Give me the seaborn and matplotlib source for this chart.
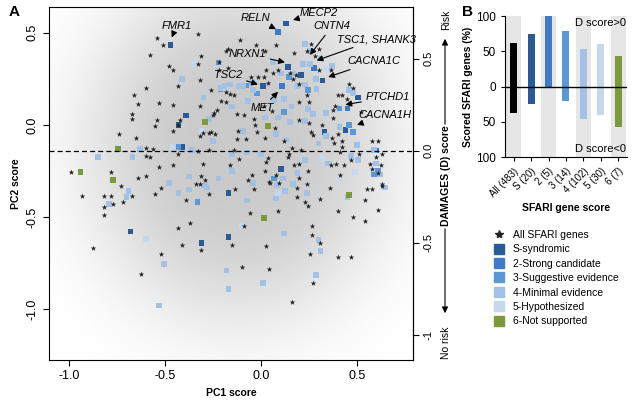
import numpy as np
import pandas as pd
import matplotlib
matplotlib.use("Agg")
import matplotlib.pyplot as plt
from matplotlib.lines import Line2D
from matplotlib.patches import FancyArrowPatch
import seaborn as sns

plt.rcParams['font.family'] = ['Liberation Sans', 'DejaVu Sans']

# ---------------- Panel A data: (PC1, PC2) ----------------
star_points = [
    (-0.54,0.47),(-0.51,0.435),(-0.33,0.495),(-0.58,0.38),(-0.31,0.375),(-0.48,0.32),(-0.33,0.33),(-0.32,0.245),
    (-0.60,0.20),(-0.66,0.16),(-0.53,0.12),(-0.64,0.114),(-0.46,0.11),(-0.32,0.10),(-0.67,0.06),(-0.67,0.033),
    (-0.54,0.027),(-0.55,-0.005),(-0.245,0.065),(-0.74,-0.05),(-0.65,-0.07),(-0.46,-0.033),(-0.32,-0.06),
    (-0.27,-0.043),(-0.24,-0.05),(-0.60,-0.125),(-0.56,-0.13),(-0.60,-0.17),(-0.58,-0.174),(-0.33,-0.14),
    (-0.53,-0.23),(-0.46,-0.22),(-0.30,-0.21),(-0.99,-0.255),(-0.78,-0.255),(-0.73,-0.33),(-0.64,-0.29),
    (-0.60,-0.28),(-0.32,-0.32),(-0.29,-0.30),(-0.93,-0.385),(-0.82,-0.385),(-0.78,-0.385),(-0.67,-0.385),
    (-0.55,-0.375),(-0.52,-0.34),(-0.82,-0.445),(-0.77,-0.43),(-0.72,-0.42),(-0.82,-0.49),(-0.875,-0.67),
    (-0.52,-0.70),(-0.625,-0.81),(-0.43,-0.56),(-0.37,-0.53),(-0.41,-0.65),(-0.31,-0.68),(-0.27,-0.375),
    (-0.15,-0.65),(-0.135,-0.35),(-0.39,-0.41),(-0.43,-0.16),(-0.31,-0.28),(-0.34,-0.32),(-0.16,-0.22),
    (-0.115,-0.185),(-0.047,-0.27),(-0.068,-0.30),(-0.036,-0.35),(0.026,-0.20),(0.036,-0.18),(0.021,-0.25),
    (0.042,-0.31),(0.078,-0.27),(0.094,-0.315),(0.14,-0.174),(0.146,-0.16),(0.17,-0.22),(-0.057,-0.48),
    (0.089,-0.47),(-0.09,-0.55),(0.026,-0.66),(-0.10,-0.77),(0.042,-0.78),(0.16,-0.96),(0.265,-0.55),
    (0.265,-0.60),(0.31,-0.64),(0.255,-0.70),(0.27,-0.86),(0.40,-0.72),(0.47,-0.72),(0.40,-0.47),(0.48,-0.50),
    (0.54,-0.52),(0.61,-0.46),(0.54,-0.41),(0.55,-0.35),(0.58,-0.35),(0.63,-0.33),(0.19,-0.39),(0.23,-0.42),
    (0.245,-0.44),(0.31,-0.40),(0.36,-0.34),(0.047,-0.315),(0.20,-0.21),(0.20,-0.29),(0.245,-0.25),(0.24,-0.32),
    (0.19,-0.34),(0.365,-0.22),(0.39,-0.21),(0.41,-0.27),(0.43,-0.22),(0.41,-0.147),(0.47,-0.19),(0.51,-0.16),
    (0.57,-0.21),(0.58,-0.24),(0.625,-0.22),(0.63,-0.16),(0.60,-0.174),(0.61,-0.26),(0.63,-0.32),
    (-0.11,0.46),(-0.17,0.41),(-0.026,0.435),(0.021,0.40),(0.078,0.435),(-0.22,0.34),(-0.17,0.31),(-0.22,0.30),
    (-0.46,0.30),(-0.43,0.21),(-0.26,0.19),(-0.18,0.18),(-0.16,0.17),(-0.14,0.16),(-0.21,0.13),(-0.18,0.125),
    (-0.23,0.08),(-0.125,0.06),(-0.25,0.054),(-0.26,-0.04),(-0.30,-0.043),(-0.42,0.027),(-0.43,0.0),
    (-0.12,-0.033),(-0.031,0.0),(-0.036,0.033),(-0.09,0.054),(-0.021,-0.04),(0.073,-0.016),(-0.125,-0.076),
    (-0.078,-0.076),(0.021,-0.07),(0.12,-0.09),(0.016,0.10),(0.057,0.076),(-0.016,0.26),(0.016,0.26),
    (0.036,0.23),(-0.052,0.26),(0.026,0.30),(0.0625,0.28),(0.089,0.30),(0.15,0.28),(0.26,0.44),(0.24,0.40),
    (0.30,0.41),(0.28,0.375),(0.17,0.39),(0.30,0.30),(0.365,0.30),(0.46,0.22),(0.48,0.20),(0.40,0.16),
    (0.42,0.16),(0.45,0.14),(0.20,0.22),(0.18,0.27),(0.167,0.25),(0.24,0.16),(0.25,0.125),(0.20,0.125),
    (0.385,0.10),(0.375,0.08),(0.375,0.04),(0.20,0.027),(0.25,0.01),(0.32,0.0),(0.26,-0.04),(0.27,-0.054),
    (0.40,-0.05),(0.37,-0.07),(0.38,-0.10),(0.42,-0.09),(0.42,-0.12),(0.58,-0.09),(0.61,-0.09),(0.52,0.07),
    (-0.18,0.40),(0.16,-0.125),(0.21,-0.136),(-0.14,-0.136),(-0.27,-0.136),
]

sq_S = [(-0.47,0.435),(-0.39,0.05),(-0.43,0.0),(-0.41,-0.12),(-0.17,-0.37),(-0.68,-0.58),(-0.31,-0.64),
        (-0.17,-0.61),(0.104,-0.24),(0.13,0.55),(0.01,0.21),(0.14,0.315),(0.32,0.24),(0.21,0.27),(0.505,0.15),
        (0.44,-0.027),(0.33,-0.04)]
sq_2 = [(0.60,-0.14),(0.089,0.505),(0.11,0.21),(0.276,0.31),(0.45,0.09)]
sq_3 = [(-0.22,0.34),(-0.21,0.196),(-0.43,-0.12),(-0.33,-0.42),(0.068,-0.29),(0.61,-0.25),(0.59,-0.27),
        (0.146,0.26),(-0.075,0.215),(-0.021,0.17),(0.12,0.07),(0.245,0.19),(0.41,0.09),(0.46,0.0),(0.48,-0.04)]
sq_4 = [(-0.41,0.25),(-0.30,0.15),(-0.27,0.033),(-0.63,-0.13),(-0.36,-0.136),(-0.85,-0.174),(-0.67,-0.174),
        (-0.48,-0.315),(-0.375,-0.28),(-0.22,-0.29),(-0.69,-0.36),(-0.70,-0.39),(-0.79,-0.43),(-0.505,-0.755),
        (-0.53,-0.98),(-0.43,-0.37),(-0.375,-0.35),(-0.28,-0.34),(-0.18,-0.79),(-0.17,-0.89),(-0.29,-0.33),
        (-0.15,-0.25),(-0.073,-0.41),(-0.042,-0.315),(0.083,-0.33),(0.115,-0.29),(0.125,-0.36),(0.078,-0.40),
        (0.167,-0.32),(0.12,-0.59),(0.01,-0.86),(-0.15,-0.16),(-0.073,-0.15),(0.0,-0.16),(0.30,-0.625),
        (0.31,-0.685),(0.286,-0.815),(0.45,-0.39),(0.645,-0.34),(0.23,-0.19),(0.19,-0.26),(0.24,-0.37),
        (0.35,-0.21),(0.47,-0.17),(0.505,-0.19),(0.60,-0.21),(0.62,-0.27),(0.0625,0.34),(0.104,0.28),
        (-0.094,0.21),(-0.115,0.21),(-0.042,0.19),(-0.047,0.23),(-0.16,0.22),(-0.19,0.21),(-0.21,0.20),
        (0.089,0.04),(0.021,0.04),(0.068,0.136),(0.12,0.14),(-0.068,0.13),(-0.15,0.10),(-0.094,-0.033),
        (-0.25,-0.087),(0.078,-0.05),(0.13,-0.08),(0.15,0.016),(0.255,0.33),(0.22,0.33),(0.31,0.36),
        (0.37,0.32),(0.286,0.25),(0.23,0.44),(0.255,0.40),(0.167,0.28),(0.23,0.22),(0.19,0.21),(0.29,0.196),
        (0.46,0.19),(0.48,0.17),(0.34,0.065),(0.245,0.087),(0.27,0.06),(0.23,0.02),(0.16,0.10),(0.41,-0.01),
        (0.34,-0.06),(0.30,-0.10),(0.50,-0.11),(0.59,-0.136)]
sq_5 = [(-0.35,0.33),(-0.31,-0.033),(-0.60,-0.62),(0.089,-0.37),(-0.10,-0.55),(0.32,-0.18),(0.49,-0.255),
        (0.41,-0.30),(-0.46,-0.12),(0.34,0.30)]
sq_6 = [(-0.29,0.016),(-0.745,-0.13),(-0.94,-0.255),(-0.77,-0.30),(0.016,-0.505),(0.46,-0.38),(0.036,-0.005)]

gene_labels = ['FMR1','RELN','MECP2','CNTN4','TSC1, SHANK3','CACNA1C','NRXN1','TSC2','MET','PTCHD1','CACNA1H']
label_xy    = [(-0.44,0.535),(-0.03,0.58),(0.30,0.61),(0.37,0.535),(0.60,0.465),(0.59,0.345),
               (-0.07,0.385),(-0.17,0.27),(0.005,0.09),(0.66,0.15),(0.645,0.054)]
target_xy   = [(-0.465,0.475),(0.078,0.52),(0.167,0.57),(0.255,0.38),(0.29,0.35),(0.35,0.26),
               (0.125,0.34),(-0.016,0.22),(0.089,0.18),(0.44,0.11),(0.50,0.0)]

# ---------------- Panel B data ----------------
b_labels = ['All (483)','S (20)','2 (5)','3 (14)','4 (102)','5 (30)','6 (7)']
b_pos = [62, 75, 100, 79, 54, 60, 43]
b_neg = [38, 25, 0, 21, 46, 40, 57]

cls_order = ['S','2','3','4','5','6']
cls_names = ['S-syndromic','2-Strong candidate','3-Suggestive evidence','4-Minimal evidence','5-Hypothesized','6-Not supported']
cls_colors = ['#2b5b97','#3d7bc6','#5a98d6','#a3c1e4','#c5d8ee','#7a9a3c']
bar_colors = ['#000000'] + cls_colors

# ---------------- Figure ----------------
fig = plt.figure(figsize=(6.32, 4.05), dpi=100)
ax = fig.add_axes([0.0775, 0.111, 0.576, 0.872])
xlim = (-1.104, 0.792)
ylim = (-1.277, 0.641)

gx = np.linspace(xlim[0], xlim[1], 300)
gy = np.linspace(ylim[0], ylim[1], 300)
GX, GY = np.meshgrid(gx, gy)
r2 = ((GX + 0.12) / 0.80) ** 2 + ((GY + 0.12) / 0.95) ** 2
bg = 1 - 0.21 * np.exp(-r2 ** 1.6)
ax.imshow(bg, extent=(*xlim, *ylim), origin='lower', cmap='gray', vmin=0, vmax=1,
          aspect='auto', zorder=0, interpolation='bilinear')

df_star = pd.DataFrame(star_points, columns=['PC1', 'PC2'])
sq_groups = [sq_S, sq_2, sq_3, sq_4, sq_5, sq_6]
df_sq = pd.concat([pd.DataFrame(g, columns=['PC1', 'PC2']).assign(cls=c)
                   for g, c in zip(sq_groups, cls_order)], ignore_index=True)

sns.scatterplot(data=df_sq, x='PC1', y='PC2', hue='cls', hue_order=cls_order,
                palette=dict(zip(cls_order, cls_colors)), marker='s', s=16,
                linewidth=0, legend=False, ax=ax, zorder=2)
sns.scatterplot(data=df_star, x='PC1', y='PC2', marker='*', s=18, color='#222222',
                linewidth=0, ax=ax, zorder=3)

ax.axhline(-0.14, color='black', lw=0.9, ls=(0, (4, 2.5)), zorder=4)
for name, (tx, ty), (px, py) in zip(gene_labels, label_xy, target_xy):
    ax.annotate(name, xy=(px, py), xytext=(tx, ty), fontsize=8, style='italic',
                ha='center', va='center', zorder=6,
                arrowprops=dict(arrowstyle='-|>', color='black', lw=0.8,
                                mutation_scale=9, shrinkA=1, shrinkB=0))

ax.set_xlim(*xlim)
ax.set_ylim(*ylim)
ax.set_xticks([-1.0, -0.5, 0.0, 0.5])
ax.set_xticklabels(['-1.0', '-0.5', '0.0', '0.5'], fontsize=9)
ax.set_yticks([0.5, 0.0, -0.5, -1.0])
ax.set_yticklabels(['0.5', '0.0', '-0.5', '-1.0'], fontsize=9, rotation=90, va='center')
ax.tick_params(direction='out', length=4, width=0.8)
ax.set_xlabel('PC1 score', fontsize=7.5, fontweight='bold', labelpad=4)
ax.set_ylabel('PC2 score', fontsize=7.5, fontweight='bold', labelpad=4)
for s in ax.spines.values():
    s.set_linewidth(0.8)

sec = ax.secondary_yaxis('right', functions=(lambda y: y + 0.14, lambda d: d - 0.14))
sec.set_yticks([0.5, 0.0, -0.5, -1.0])
sec.set_yticklabels(['0.5', '0.0', '-0.5', '-1'], fontsize=8, rotation=90, va='center')
sec.tick_params(direction='out', length=4, width=0.8)

fig.text(446/632, 1-176/405, 'DAMAGES (D) score', rotation=90, ha='center', va='center',
         fontsize=7.5, fontweight='bold')
fig.text(446/632, 1-20/405, 'Risk', rotation=90, ha='center', va='center', fontsize=7.5)
fig.text(446/632, 1-343/405, 'No risk', rotation=90, ha='center', va='center', fontsize=7.5)
fig.add_artist(FancyArrowPatch((445/632, 1-127/405), (445/632, 1-36/405),
               transform=fig.transFigure, arrowstyle='-|>', mutation_scale=9, color='black', lw=0.8))
fig.add_artist(FancyArrowPatch((445/632, 1-226/405), (445/632, 1-316/405),
               transform=fig.transFigure, arrowstyle='-|>', mutation_scale=9, color='black', lw=0.8))

fig.text(14/632, 1-12/405, 'A', fontsize=11, fontweight='bold', ha='center', va='center')
fig.text(468/632, 1-12/405, 'B', fontsize=11, fontweight='bold', ha='center', va='center')

# ---------------- Panel B ----------------
axb = fig.add_axes([0.799, 0.612, 0.193, 0.348])
for i in range(0, 7, 2):
    axb.axvspan(i - 0.43, i + 0.43, color='#e6e6e6', zorder=0, lw=0)
df_b = pd.DataFrame({'cat': b_labels, 'pos': b_pos, 'neg': [-v for v in b_neg]})
sns.barplot(data=df_b, x='cat', y='pos', hue='cat', palette=bar_colors, width=0.4,
            saturation=1, legend=False, ax=axb, zorder=2)
sns.barplot(data=df_b, x='cat', y='neg', hue='cat', palette=bar_colors, width=0.4,
            saturation=1, legend=False, ax=axb, zorder=2)
axb.axhline(0, color='black', lw=1, zorder=3)
axb.set_xlim(-0.5, 6.5)
axb.set_ylim(-100, 100)
axb.set_yticks([100, 50, 0, -50, -100])
axb.set_yticklabels(['100', '50', '0', '50', '100'], fontsize=8.5)
axb.set_xticks(range(7))
axb.set_xticklabels(b_labels, rotation=45, ha='right', rotation_mode='anchor', fontsize=7)
axb.tick_params(direction='out', length=3, width=0.8)
axb.set_xlabel('SFARI gene score', fontsize=7.5, fontweight='bold', labelpad=3)
axb.set_ylabel('Scored SFARI genes (%)', fontsize=7.5, fontweight='bold', labelpad=2)
axb.spines['top'].set_visible(False)
axb.spines['right'].set_visible(False)
for s in ['left', 'bottom']:
    axb.spines[s].set_linewidth(0.8)
axb.text(6.45, 90, 'D score>0', ha='right', va='center', fontsize=8)
axb.text(6.45, -88, 'D score<0', ha='right', va='center', fontsize=8)

# ---------------- Legend ----------------
handles = [Line2D([], [], marker='*', ls='', color='#222222', markersize=6)]
handles += [Line2D([], [], marker='s', ls='', color=c, markersize=7.5) for c in cls_colors]
labels = ['All SFARI genes'] + cls_names
fig.legend(handles, labels, loc='upper left', bbox_to_anchor=(494/632, 1-230/405),
           frameon=False, fontsize=7.5, handlelength=1.0, handletextpad=0.8,
           labelspacing=0.42, borderpad=0, borderaxespad=0)

fig.savefig('out.png', dpi=100)
